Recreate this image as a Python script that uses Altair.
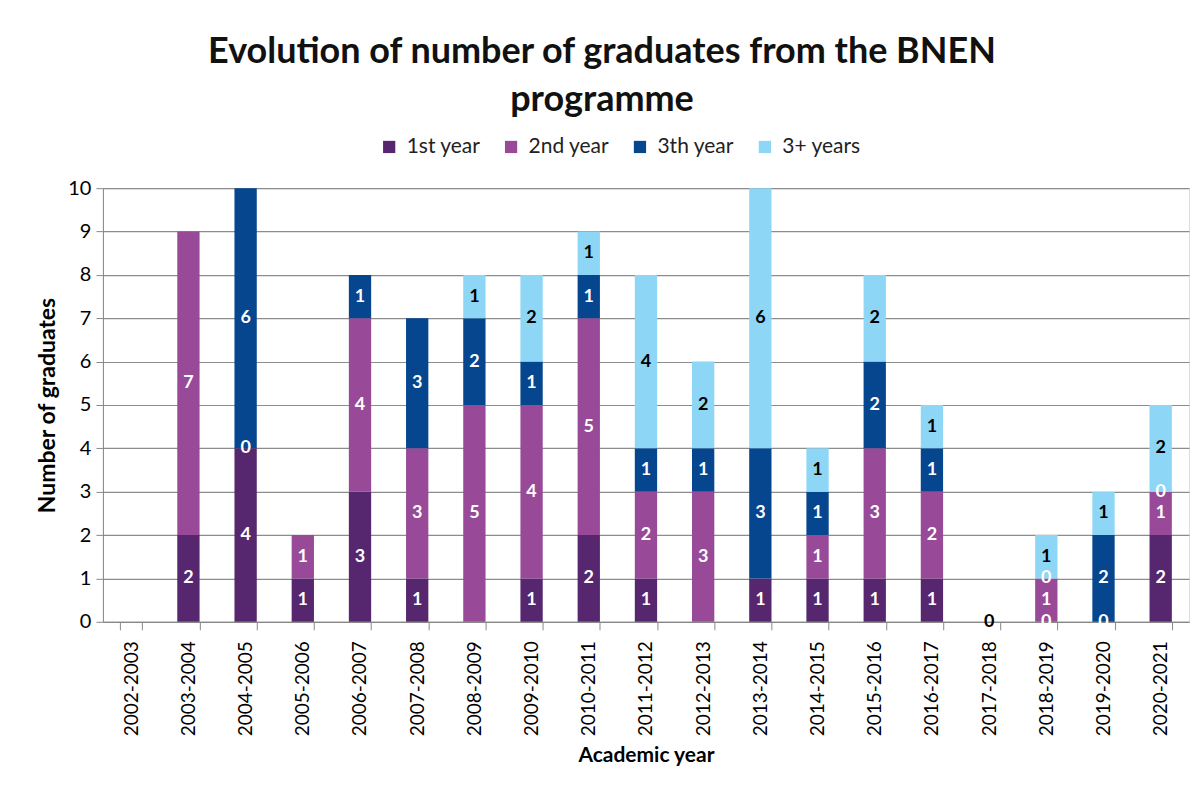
import altair as alt
import pandas as pd

years = ["2002-2003", "2003-2004", "2004-2005", "2005-2006", "2006-2007", "2007-2008",
         "2008-2009", "2009-2010", "2010-2011", "2011-2012", "2012-2013", "2013-2014",
         "2014-2015", "2015-2016", "2016-2017", "2017-2018", "2018-2019", "2019-2020",
         "2020-2021"]
series = ["1st year", "2nd year", "3th year", "3+ years"]
colors = ["#56276F", "#984A99", "#05468F", "#8DD6F5"]
label_colors = ["white", "white", "white", "black"]

N = None
first_year = [N, 2, 4, 1, 3, 1, N, 1, 2, 1, N, 1, 1, 1, 1, N, 0, N, 2]
second_year = [N, 7, 0, 1, 4, 3, 5, 4, 5, 2, 3, N, 1, 3, 2, N, 1, 0, 1]
third_year = [N, N, 6, N, 1, 3, 2, 1, 1, 1, 1, 3, 1, 2, 1, N, 0, 2, 0]
more_years = [N, N, N, N, N, N, 1, 2, 1, 4, 2, 6, 1, 2, 1, 0, 1, 1, 2]

rows = []
for s_i, (name, vals) in enumerate(zip(series, [first_year, second_year, third_year, more_years])):
    for y, v in zip(years, vals):
        if v is not None:
            rows.append({"year": y, "series": name, "order": s_i, "value": v,
                         "lab": label_colors[s_i]})
df = pd.DataFrame(rows)

FONT = "Lato"

base = alt.Chart(df).transform_stack(
    stack="value", groupby=["year"], as_=["y0", "y1"], sort=[alt.SortField("order")]
).transform_calculate(mid="(datum.y0 + datum.y1) / 2")

x = alt.X("year:N", scale=alt.Scale(domain=years, paddingInner=0.61, paddingOuter=0.3),
          title="Academic year",
          axis=alt.Axis(labelAngle=-90, labelFontSize=19, labelColor="#000", labelPadding=11,
                        tickBand="extent", tickColor="#888", tickSize=8, domainColor="#888",
                        titleFontSize=21, titleFontWeight="bold", titlePadding=9,
                        titleColor="#000", labelFont=FONT, titleFont=FONT))

bars = base.mark_bar().encode(
    x=x,
    y=alt.Y("y0:Q", scale=alt.Scale(domain=[0, 10]), title="Number of graduates",
            axis=alt.Axis(values=list(range(0, 11)), labelFontSize=20, labelColor="#000",
                          gridColor="#8c8c8c", gridWidth=1.2, tickColor="#888", tickSize=7,
                          domainColor="#888", titleFontSize=23, titleFontWeight="bold",
                          titleColor="#000", titlePadding=8, labelFont=FONT, titleFont=FONT,
                          labelPadding=5)),
    y2="y1:Q",
    color=alt.Color("series:N", scale=alt.Scale(domain=series, range=colors),
                    sort=series,
                    legend=alt.Legend(title=None, orient="none", direction="horizontal",
                                      legendX=276, legendY=-52,
                                      symbolType="square", symbolSize=150, labelFontSize=21,
                                      labelFont=FONT, labelColor="#222", columnPadding=20,
                                      symbolStrokeWidth=0, labelOffset=7)),
)

texts = base.mark_text(fontSize=18, fontWeight="bold", font=FONT).encode(
    x=alt.X("year:N", scale=alt.Scale(domain=years)),
    y=alt.Y("mid:Q"),
    text=alt.Text("value:Q"),
    color=alt.Color("lab:N", scale=None),
)

chart = alt.layer(bars, texts).properties(
    width=1087, height=434,
    title=alt.TitleParams(
        ["Evolution of number of graduates from the BNEN", "programme"],
        fontSize=36, font=FONT, fontWeight="bold", color="#111", lineHeight=48,
        anchor="middle", offset=17, dx=-44),
    autosize=alt.AutoSizeParams(type="none"),
    padding={"left": 95, "top": 180, "right": 5, "bottom": 150},
).configure_view(stroke=None).configure(background="white")

chart.save("out.html", embed_options={"renderer": "svg", "actions": False})
